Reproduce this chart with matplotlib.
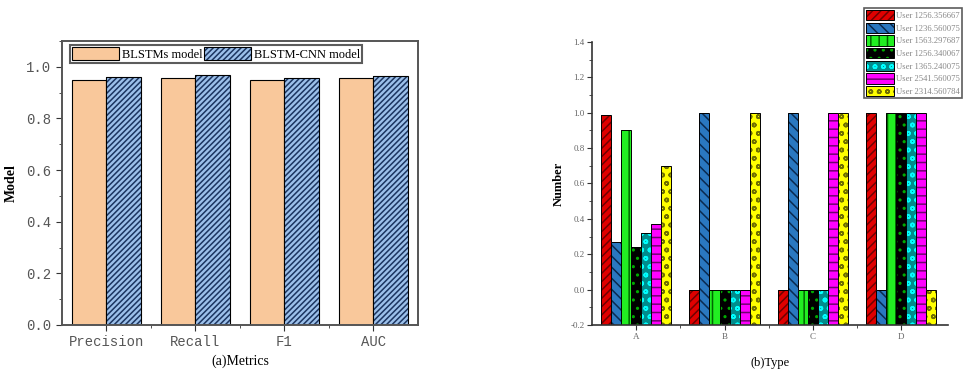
import matplotlib
matplotlib.use('Agg')
import matplotlib.pyplot as plt
from matplotlib.ticker import MultipleLocator
import numpy as np

# ---- data (a) ----
metrics = ['Precision', 'Recall', 'F1', 'AUC']
blstm = [0.947, 0.957, 0.947, 0.957]
blstm_cnn = [0.960, 0.970, 0.958, 0.965]
names_a = ['BLSTMs model', 'BLSTM-CNN model']

# ---- data (b) ----
types = ['A', 'B', 'C', 'D']
users = ['User 1256.356667', 'User 1236.560075', 'User 1563.297687',
         'User 1256.340067', 'User 1365.240075', 'User 2541.560075',
         'User 2314.560784']
user_vals = [
  [0.99, 0.00, 0.00, 1.00],
  [0.27, 1.00, 1.00, 0.00],
  [0.90, 0.00, 0.00, 1.00],
  [0.24, 0.00, 0.00, 1.00],
  [0.32, 0.00, 0.00, 1.00],
  [0.37, 0.00, 1.00, 1.00],
  [0.70, 1.00, 1.00, 0.00],
]

# face colour, hatch colour, hatch
styles_b = [
  ('#e00000', '#700000', '////'),
  ('#2a78c0', '#0a2a50', '\\\\\\'),
  ('#22ee22', '#006600', '||'),
  ('#000000', '#00aa00', '..'),
  ('#008c8c', '#00ffff', 'oo'),
  ('#ff00ff', '#700070', '--'),
  ('#ffff00', '#707000', 'oo'),
]

plt.rcParams['hatch.linewidth'] = 1.1
serif = 'Liberation Serif'
mono = 'Liberation Mono'

fig = plt.figure(figsize=(9.68, 3.73), dpi=100)

def hbar(ax, x, h, w, face, hcol, hatch, bottom=0.0, lw=0.8):
  b1 = ax.bar(x, h, w, bottom=bottom, color=face, edgecolor=hcol, hatch=hatch, linewidth=0)
  b2 = ax.bar(x, h, w, bottom=bottom, fill=False, edgecolor='black', linewidth=lw)
  return (b1, b2)

#--------------------------------------------------------------------------------
# (a) metrics
ax1 = fig.add_axes([0.064, 0.1287, 0.3678, 0.7614])
idx = np.arange(len(metrics))
width = 0.39
h1 = hbar(ax1, idx - width/2, blstm, width, '#f9c89b', '#f9c89b', None)
h2 = hbar(ax1, idx + width/2, blstm_cnn, width, '#9cc0ea', '#1c3560', '//////')

ax1.set_xlim(-0.5, 3.5)
ax1.set_ylim(0, 1.1)
ax1.set_xticks(idx)
ax1.set_xticklabels(metrics, fontfamily=mono, fontsize=10, color='#555555')
ax1.set_xticks(idx[:-1] + 0.5, minor=True)
ax1.yaxis.set_major_locator(MultipleLocator(0.2))
ax1.yaxis.set_minor_locator(MultipleLocator(0.1))
for lab in ax1.get_yticklabels():
  lab.set_fontfamily(mono)
  lab.set_fontsize(10)
  lab.set_color('#555555')
ax1.tick_params(which='both', direction='out', color='#333333')
ax1.tick_params(which='major', length=4)
ax1.tick_params(which='minor', length=2.5)
for sp in ax1.spines.values():
  sp.set_linewidth(1.4)
  sp.set_color('#555555')
ax1.set_ylabel('Model', fontfamily=serif, fontsize=10, fontweight='bold', labelpad=6)
ax1.set_xlabel('(a)Metrics', fontfamily=serif, fontsize=10, labelpad=4)

leg1 = ax1.legend([h1, h2], names_a, loc='upper left', bbox_to_anchor=(0.015, 0.995),
                  ncol=2, prop={'family': serif, 'size': 9}, frameon=True, fancybox=False,
                  handlelength=3.8, handleheight=1.3, handletextpad=0.2,
                  columnspacing=0.1, borderpad=0.15, borderaxespad=0.2)
leg1.get_frame().set_edgecolor('#333333')
leg1.get_frame().set_linewidth(1.5)

#--------------------------------------------------------------------------------
# (b) type
ax2 = fig.add_axes([0.6116, 0.1287, 0.3678, 0.7587])
idx = np.arange(len(types))
bw = 0.114
handles = []
for i in range(len(users)):
  face, hcol, hatch = styles_b[i]
  vals = np.array(user_vals[i])
  xpos = idx + (i - 3) * bw
  hh = hbar(ax2, xpos, vals + 0.2, bw, face, hcol, hatch, bottom=-0.2, lw=0.7)
  handles.append(hh)

ax2.set_xlim(-0.5, 3.53)
ax2.set_ylim(-0.2, 1.4)
ax2.set_xticks(idx)
ax2.set_xticklabels(types, fontfamily=serif, fontsize=6.5, color='#666666')
ax2.set_xticks(idx[:-1] + 0.5, minor=True)
ax2.yaxis.set_minor_locator(MultipleLocator(0.1))
ax2.set_yticks(np.arange(-0.2, 1.41, 0.2))
ax2.set_yticklabels(['%.1f' % v for v in np.arange(-0.2, 1.41, 0.2)],
                    fontfamily=serif, fontsize=6.5, color='#666666')
ax2.spines['top'].set_visible(False)
ax2.spines['right'].set_visible(False)
for s in ['left', 'bottom']:
  ax2.spines[s].set_linewidth(1.2)
  ax2.spines[s].set_color('#333333')
ax2.tick_params(which='both', direction='out', color='#333333')
ax2.tick_params(which='major', length=3.5, pad=2)
ax2.tick_params(which='minor', length=2)
ax2.set_ylabel('Number', fontfamily=serif, fontsize=9, fontweight='bold', labelpad=4)
ax2.set_xlabel('(b)Type', fontfamily=serif, fontsize=9, labelpad=12)

leg2 = fig.legend(handles, users, loc='upper left', bbox_to_anchor=(864/968, 1 - 8/373),
                  bbox_transform=fig.transFigure, prop={'family': serif, 'size': 6.2},
                  frameon=True, fancybox=False, handlelength=3.2, handleheight=1.45,
                  handletextpad=0.3, labelspacing=0.28, borderpad=0.25, borderaxespad=0)
leg2.get_frame().set_edgecolor('#333333')
leg2.get_frame().set_linewidth(1.2)
for t in leg2.get_texts():
  t.set_color('#888888')

fig.savefig('out.png', dpi=100)
